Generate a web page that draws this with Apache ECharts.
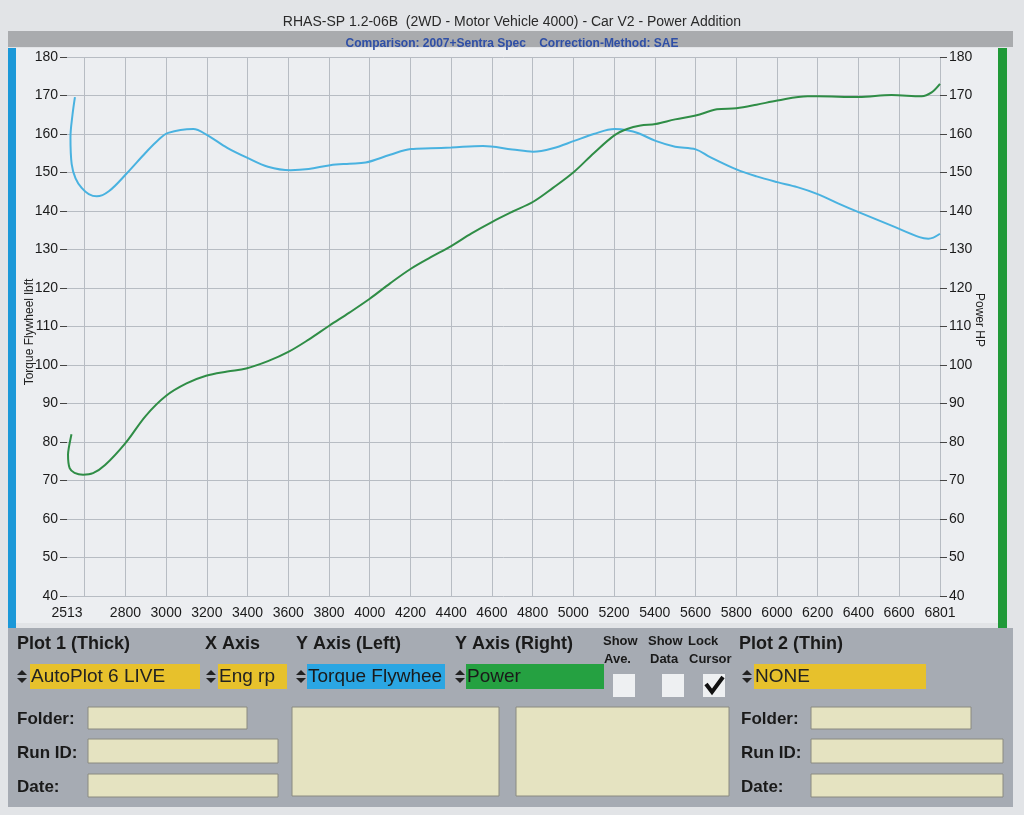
<!DOCTYPE html>
<html>
<head>
<meta charset="utf-8">
<script src="https://cdn.jsdelivr.net/npm/echarts@6/dist/echarts.min.js"></script>
<style>
html,body{margin:0;padding:0;background:#e2e4e7;}
#c{width:1024px;height:815px;}
</style>
</head>
<body>
<div id="c"></div>
<script>
// ---- data ----
const torqueRpm = [2552,2540,2530,2536,2555,2585,2620,2659,2720,2807,2900,2960,3010,3133,3202,3300,3399,3500,3611,3700,3806,3900,3980,4100,4202,4300,4400,4556,4700,4803,4900,5004,5100,5203,5264,5320,5404,5500,5601,5672,5801,5900,6002,6100,6200,6300,6401,6563,6700,6744,6801];
const torqueVal = [169.6,165,159.1,152.2,148.5,146.0,144.4,143.8,145.2,149.8,155.2,158.4,160.3,161.3,159.7,156.4,153.8,151.5,150.6,150.9,151.9,152.3,152.6,154.6,156.1,156.3,156.5,156.9,156.0,155.4,156.3,158.2,160.0,161.3,161.0,160.2,158.2,156.7,156.0,154.0,150.8,149.0,147.5,146.2,144.4,142.0,139.7,136.2,133.2,132.8,134.1];
const powerRpm = [2535,2522,2518,2526,2550,2592,2641,2700,2800,2900,3000,3100,3196,3300,3393,3500,3600,3700,3801,3900,4000,4100,4202,4300,4400,4500,4602,4700,4803,4900,5004,5100,5203,5264,5330,5404,5500,5601,5705,5801,5900,6002,6151,6200,6401,6563,6711,6760,6801];
const powerVal = [82.0,78.5,76.7,73.2,72.0,71.5,71.9,74.0,79.7,86.8,92.0,95.2,97.2,98.3,99.1,101.0,103.4,106.6,110.2,113.6,117.2,121.2,125.0,128.0,130.9,134.2,137.2,139.8,142.4,146.0,150.2,155.0,159.7,161.3,162.2,162.6,163.8,164.8,166.4,166.7,167.6,168.7,169.8,169.8,169.6,170.1,169.8,170.8,173.0];
const xTicks = [2600,2800,3000,3200,3400,3600,3800,4000,4200,4400,4600,4800,5000,5200,5400,5600,5800,6000,6200,6400,6600,6800];
const xLabels = [2513,2800,3000,3200,3400,3600,3800,4000,4200,4400,4600,4800,5000,5200,5400,5600,5800,6000,6200,6400,6600,6801];
const xMin = 2513, xMax = 6801;
const yMin = 40, yMax = 180, yStep = 10;

const titleText = 'RHAS-SP 1.2-06B  (2WD - Motor Vehicle 4000) - Car V2 - Power Addition';
const subText = 'Comparison: 2007+Sentra Spec    Correction-Method: SAE';
const leftName = 'Torque Flywheel lbft';
const rightName = 'Power HP';

const torqueData = torqueRpm.map((r, i) => [r, torqueVal[i]]);
const powerData = powerRpm.map((r, i) => [r, powerVal[i]]);

const FONT = 'Liberation Sans, Arial, sans-serif';
const FONTB = 'Liberation Sans, Arial, sans-serif';

// ---- control panel graphics ----
function arrows(x, y) {
  return [
    {type:'polygon', shape:{points:[[x,y+5],[x+5,y],[x+10,y+5]]}, style:{fill:'#222'}},
    {type:'polygon', shape:{points:[[x,y+8],[x+5,y+13],[x+10,y+8]]}, style:{fill:'#222'}}
  ];
}
function rect(x, y, w, h, fill, stroke) {
  return {type:'rect', shape:{x:x, y:y, width:w, height:h}, style:{fill:fill, stroke:stroke||null, lineWidth:1}};
}
function txt(x, y, s, size, bold, color, extra) {
  return {type:'text', x:x, y:y, style:Object.assign({text:s, fill:color||'#1a1a1a',
    font:(bold?'bold ':'')+size+'px '+FONTB, verticalAlign:'middle', align:'left'}, extra||{})};
}
const fieldC = '#e5e3c1', fieldS = '#8a8a80';
const yellow = '#e7c12c';
const g = [];
// backgrounds
g.push(rect(16, 48, 982, 575, '#eceef1'));
g.push(rect(8, 31, 1005, 16, '#a9abae'));
g.push(rect(8, 48, 8, 580, '#1b98d8'));
g.push(rect(998, 48, 9, 580, '#1f9938'));
g.push(rect(8, 628, 1005, 179, '#a6abb3'));
// left/right axis names
g.push({type:'text', x:30, y:332, rotation:Math.PI/2, style:{text:leftName, fill:'#222', font:'12px '+FONTB, align:'center', verticalAlign:'middle'}});
g.push({type:'text', x:979, y:320, rotation:-Math.PI/2, style:{text:rightName, fill:'#222', font:'12px '+FONTB, align:'center', verticalAlign:'middle'}});
// headers
g.push(txt(17, 644, 'Plot 1 (Thick)', 18, true));
g.push(txt(205, 644, 'X Axis', 18, true));
g.push(txt(296, 644, 'Y Axis (Left)', 18, true));
g.push(txt(455, 644, 'Y Axis (Right)', 18, true));
g.push(txt(603, 641, 'Show', 13, true));
g.push(txt(604, 659, 'Ave.', 13, true));
g.push(txt(648, 641, 'Show', 13, true));
g.push(txt(650, 659, 'Data', 13, true));
g.push(txt(688, 641, 'Lock', 13, true));
g.push(txt(689, 659, 'Cursor', 13, true));
g.push(txt(739, 644, 'Plot 2 (Thin)', 18, true));
// selectors
g.push(...arrows(17, 670));
g.push(rect(30, 664, 170, 25, yellow));
g.push(txt(31, 677, 'AutoPlot 6 LIVE', 19, false, '#222'));
g.push(...arrows(206, 670));
g.push(rect(218, 664, 69, 25, yellow));
g.push(txt(219, 677, 'Eng rpm', 19, false, '#222', {width:72, overflow:'truncate', ellipsis:''}));
g.push(...arrows(296, 670));
g.push(rect(307, 664, 138, 25, '#2ba6e3'));
g.push(txt(308, 677, 'Torque Flywheel', 19, false, '#1a1a1a', {width:137, overflow:'truncate', ellipsis:''}));
g.push(...arrows(455, 670));
g.push(rect(466, 664, 138, 25, '#25a141'));
g.push(txt(467, 677, 'Power', 19, false, '#1a1a1a'));
// checkboxes
g.push(rect(613, 674, 22, 23, '#eef0f2'));
g.push(rect(662, 674, 22, 23, '#eef0f2'));
g.push(rect(703, 674, 22, 23, '#eef0f2'));
g.push({type:'polyline', shape:{points:[[706,684],[712,692],[723,677]]}, style:{stroke:'#111', lineWidth:4, fill:null}});
g.push(...arrows(742, 670));
g.push(rect(754, 664, 172, 25, yellow));
g.push(txt(755, 677, 'NONE', 19, false, '#222'));
// fields left
g.push(txt(17, 719, 'Folder:', 17, true));
g.push(rect(88, 707, 159, 22, fieldC, fieldS));
g.push(txt(17, 753, 'Run ID:', 17, true));
g.push(rect(88, 739, 190, 24, fieldC, fieldS));
g.push(txt(17, 787, 'Date:', 17, true));
g.push(rect(88, 774, 190, 23, fieldC, fieldS));
g.push(rect(292, 707, 207, 89, fieldC, fieldS));
g.push(rect(516, 707, 213, 89, fieldC, fieldS));
// fields right
g.push(txt(741, 719, 'Folder:', 17, true));
g.push(rect(811, 707, 160, 22, fieldC, fieldS));
g.push(txt(741, 753, 'Run ID:', 17, true));
g.push(rect(811, 739, 192, 24, fieldC, fieldS));
g.push(txt(741, 787, 'Date:', 17, true));
g.push(rect(811, 774, 192, 23, fieldC, fieldS));

const chart = echarts.init(document.getElementById('c'), null, {renderer:'canvas'});
const yAxisCommon = {
  type:'value', min:yMin, max:yMax, interval:yStep,
  axisLine:{show:false},
  axisTick:{show:true, inside:false, length:7, lineStyle:{color:'#444'}},
  axisLabel:{color:'#1a1a1a', fontSize:14, fontFamily:FONT, margin:9}
};
chart.setOption({
  animation:false,
  backgroundColor:'transparent',
  title:[
    {text:titleText, left:'center', top:10, textStyle:{fontSize:14, fontWeight:'normal', color:'#2a2a2a', fontFamily:FONT}},
    {text:subText, left:'center', top:33, textStyle:{fontSize:12, fontWeight:'bold', color:'#2f4fa6', fontFamily:FONT}}
  ],
  graphic:{elements:g.map(e => Object.assign({z:-10}, e))},
  grid:{left:67, right:84, top:57, bottom:219, containLabel:false},
  xAxis:{
    type:'value', min:xMin, max:xMax,
    axisLine:{show:false},
    axisTick:{show:false, customValues:xTicks},
    axisLabel:{customValues:xLabels, formatter:v => String(v), color:'#1a1a1a', fontSize:14, fontFamily:FONT, margin:10, showMinLabel:true, showMaxLabel:true},
    splitLine:{show:true, lineStyle:{color:'#b7bcc3', width:1}}
  },
  yAxis:[
    Object.assign({}, yAxisCommon, {position:'left', splitLine:{show:true, lineStyle:{color:'#b7bcc3', width:1}}}),
    Object.assign({}, yAxisCommon, {position:'right', splitLine:{show:false}})
  ],
  series:[
    {name:'Torque', type:'line', yAxisIndex:0, data:torqueData, smooth:0.35, showSymbol:false,
     lineStyle:{color:'#49b2e0', width:2}, z:3},
    {name:'Power', type:'line', yAxisIndex:1, data:powerData, smooth:0.35, showSymbol:false,
     lineStyle:{color:'#2f8d46', width:2}, z:4}
  ]
});
</script>
</body>
</html>
